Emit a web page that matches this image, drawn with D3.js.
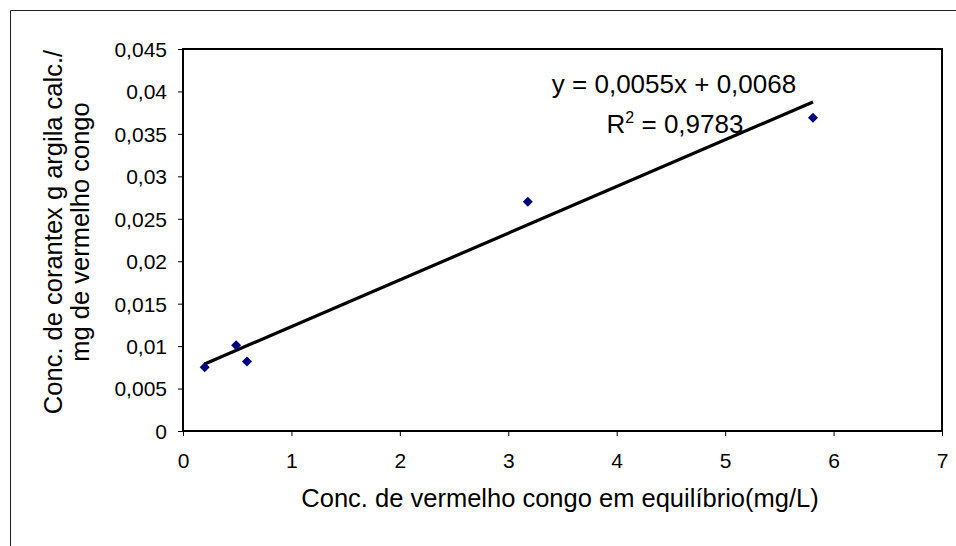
<!DOCTYPE html>
<html><head><meta charset="utf-8">
<script src="https://cdn.jsdelivr.net/npm/d3@7"></script>
<style>
html,body{margin:0;padding:0;background:#fff;}
text{font-family:"Liberation Sans",Arial,sans-serif;fill:#000;}
</style></head>
<body>
<svg id="chart" width="956" height="546"></svg>
<script>
const xValues = [0.2, 0.49, 0.59, 3.18, 5.81];
const yValues = [0.0075, 0.0101, 0.0082, 0.0270, 0.0369];
const xTicks = [0,1,2,3,4,5,6,7];
const yTicks = [0,0.005,0.01,0.015,0.02,0.025,0.03,0.035,0.04,0.045];
const slope = 0.0055, intercept = 0.0068;
const eqText = "y = 0,0055x + 0,0068";
const r2Value = "0,9783";
const xTitle = "Conc. de vermelho congo em equilíbrio(mg/L)";
const yTitleLines = ["Conc. de corantex g argila calc./", "mg de vermelho congo"];

const svg = d3.select("#chart");
const L=183, R=942, T=49, B=431;
const x = d3.scaleLinear().domain([0,7]).range([L,R]);
const y = d3.scaleLinear().domain([0,0.045]).range([B,T]);
const fmt = d => String(+d.toFixed(3)).replace(".", ",");

// outer border (cropped: left & top)
svg.append("path").attr("d","M10.5,546 L10.5,10.5 L956,10.5").attr("fill","none").attr("stroke","#222").attr("stroke-width",1);

// axes
const xa = svg.append("g").attr("transform",`translate(0,${B})`)
  .call(d3.axisBottom(x).tickValues(xTicks).tickSize(5).tickSizeOuter(0).tickPadding(0).tickFormat(d=>d));
const ya = svg.append("g").attr("transform",`translate(${L},0)`)
  .call(d3.axisLeft(y).tickValues(yTicks).tickSize(5).tickSizeOuter(0).tickPadding(11).tickFormat(fmt));
[xa,ya].forEach(a=>{a.select(".domain").remove();a.selectAll("line").attr("stroke","#000");a.selectAll("text").style("font-size","21px").attr("fill","#000");});
xa.selectAll("text").attr("dy",null).attr("y",37);
ya.selectAll("text").attr("dy","0.35em");

// plot border
svg.append("rect").attr("x",L).attr("y",T).attr("width",R-L).attr("height",B-T)
  .attr("fill","none").attr("stroke","#000").attr("stroke-width",2);

// trendline
const x0 = d3.min(xValues), x1 = d3.max(xValues);
svg.append("line").attr("x1",x(x0)).attr("y1",y(slope*x0+intercept))
  .attr("x2",x(x1)).attr("y2",y(slope*x1+intercept))
  .attr("stroke","#000").attr("stroke-width",3.2);

// points
const sym = d3.symbol().type(d3.symbolDiamond2).size(64);
svg.selectAll(".pt").data(xValues.map((v,i)=>[v,yValues[i]])).enter()
  .append("path").attr("d",sym).attr("fill","#00007f")
  .attr("transform",d=>`translate(${x(d[0])},${y(d[1])})`);

// equation
svg.append("text").attr("x",674).attr("y",93).attr("text-anchor","middle").style("font-size","26px").text(eqText);
const r2 = svg.append("text").attr("x",675).attr("y",133).attr("text-anchor","middle").style("font-size","26px");
r2.append("tspan").text("R");
r2.append("tspan").attr("dy",-10).style("font-size","16px").text("2");
r2.append("tspan").attr("dy",10).text(" = " + r2Value);

// axis titles
svg.append("text").attr("x",560).attr("y",507).attr("text-anchor","middle").style("font-size","25.5px").text(xTitle);
const yt = svg.append("text").attr("transform",`translate(62,232) rotate(-90)`).attr("text-anchor","middle").style("font-size","25.5px");
yt.append("tspan").attr("x",0).attr("dy",0).text(yTitleLines[0]);
yt.append("tspan").attr("x",0).attr("dy",27).text(yTitleLines[1]);
</script>
</body></html>
